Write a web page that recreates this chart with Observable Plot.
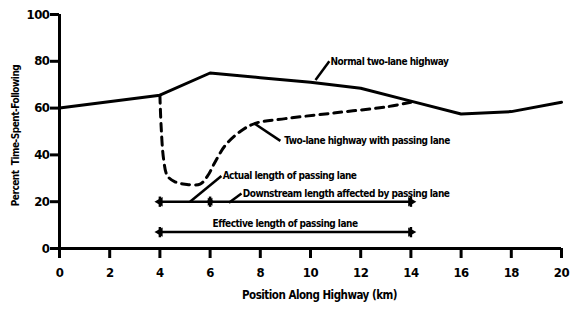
<!DOCTYPE html>
<html>
<head>
<meta charset="utf-8">
<script src="https://cdn.jsdelivr.net/npm/d3@7"></script>
<script src="https://cdn.jsdelivr.net/npm/@observablehq/plot@0.6"></script>
<style>
  html, body { margin: 0; padding: 0; background: #fff; }
  svg { display: block; }
  svg text { letter-spacing: -0.5px; }
</style>
</head>
<body>
<div id="chart"></div>
<script>
// Normal two-lane highway (solid)
const normalX = [0, 4, 6, 8, 10, 12, 14, 16, 18, 20];
const normalY = [60, 65.5, 75, 73, 71, 68.5, 63, 57.5, 58.5, 62.5];

// Two-lane highway with passing lane (dashed)
const passX = [4, 4.05, 4.15, 4.3, 4.6, 5.0, 5.6, 5.9, 6.2, 6.6, 7.2, 7.8, 9, 11, 13, 14];
const passY = [65.5, 52, 38, 31, 28.5, 27.5, 27.5, 31, 37, 44, 50, 53.5, 55.5, 58, 60.5, 62.5];

const xTicks = [0, 2, 4, 6, 8, 10, 12, 14, 16, 18, 20];
const yTicks = [0, 20, 40, 60, 80, 100];
const xTitle = "Position Along Highway (km)";
const yTitle = "Percent  Time-Spent-Following";

// Range bars
const barStart = [4, 4];
const barEnd = [14, 14];
const barY = [20, 7];
const barMidX = [6];

// Annotation labels
const labelText = [
  "Normal two-lane highway",
  "Two-lane highway with passing lane",
  "Actual length of passing lane",
  "Downstream length affected by passing lane",
  "Effective length of passing lane"
];
const labelX = [10.8, 8.95, 6.5, 7.3, 6.1];
const labelY = [80, 46, 31, 23.5, 10.5];

// Leader lines: from (x1,y1) to (x2,y2)
const leadX1 = [10.2, 7.75, 5.2, 6.75];
const leadY1 = [72, 53.5, 20, 19.5];
const leadX2 = [10.75, 8.8, 6.45, 7.25];
const leadY2 = [80, 46, 31, 23.5];

const font = "'DejaVu Sans Condensed', 'DejaVu Sans', sans-serif";

const normal = normalX.map((x, i) => ({x, y: normalY[i]}));
const pass = passX.map((x, i) => ({x, y: passY[i]}));
const bars = barY.map((y, i) => ({x1: barStart[i], x2: barEnd[i], y}));
const labels = labelText.map((t, i) => ({t, x: labelX[i], y: labelY[i]}));
const leads = leadX1.map((x1, i) => ({x1, y1: leadY1[i], x2: leadX2[i], y2: leadY2[i]}));
const ends = [];
bars.forEach(b => {
  ends.push({x: b.x1, y: b.y, r: -90});
  ends.push({x: b.x2, y: b.y, r: 90});
});
const mids = [];
barMidX.forEach(x => {
  mids.push({x: x, y: barY[0], r: 90});
  mids.push({x: x, y: barY[0], r: -90});
});
const endTicks = [];
bars.forEach(b => { endTicks.push({x: b.x1, y: b.y}); endTicks.push({x: b.x2, y: b.y}); });
barMidX.forEach(x => endTicks.push({x, y: barY[0]}));

const chart = Plot.plot({
  width: 571,
  height: 311,
  marginLeft: 59,
  marginRight: 10,
  marginTop: 14,
  marginBottom: 63,
  style: {fontFamily: font, background: "#fff", color: "#000"},
  x: {domain: [0, 20]},
  y: {domain: [0, 100]},
  marks: [
    Plot.axisX({ticks: xTicks, tickSize: 10, strokeWidth: 3, tickPadding: 9, fontSize: 13, fontWeight: "bold", label: null}),
    Plot.axisY({ticks: yTicks, tickSize: 9, strokeWidth: 3, tickPadding: 1, fontSize: 13, fontWeight: "bold", label: null}),
    Plot.text([xTitle], {text: d => d, frameAnchor: "bottom", dy: 50, dx: 9, fontSize: 11.5, fontWeight: "bold", fill: "#000"}),
    Plot.text([yTitle], {text: d => d, frameAnchor: "left", textAnchor: "middle", rotate: -90, dx: -44, dy: 4, fontSize: 10, fontWeight: "bold", fill: "#000"}),
    Plot.ruleX([0], {y1: 0, y2: 100, strokeWidth: 3}),
    Plot.ruleY([0], {x1: 0, x2: 20, strokeWidth: 3}),
    Plot.line(normal, {x: "x", y: "y", strokeWidth: 3, stroke: "#000"}),
    Plot.line(pass, {x: "x", y: "y", strokeWidth: 3, stroke: "#000", strokeDasharray: "8,6", curve: "catmull-rom"}),
    Plot.link(bars, {x1: "x1", x2: "x2", y1: "y", y2: "y", strokeWidth: 2.5, stroke: "#000"}),
    Plot.link(endTicks, {x1: "x", x2: "x", y1: d => d.y - 2.2, y2: d => d.y + 2.2, strokeWidth: 2.5, stroke: "#000"}),
    Plot.dot(ends, {x: "x", y: "y", rotate: "r", symbol: "triangle", r: 3.5, fill: "#000"}),
    Plot.dot(mids, {x: "x", y: "y", rotate: "r", symbol: "triangle", r: 3, fill: "#000"}),
    Plot.link(leads, {x1: "x1", y1: "y1", x2: "x2", y2: "y2", strokeWidth: 2.5, stroke: "#000"}),
    Plot.text(labels, {x: "x", y: "y", text: "t", textAnchor: "start", fontSize: 10, fontWeight: "bold", fill: "#000"})
  ]
});
document.getElementById("chart").appendChild(chart);
</script>
</body>
</html>
